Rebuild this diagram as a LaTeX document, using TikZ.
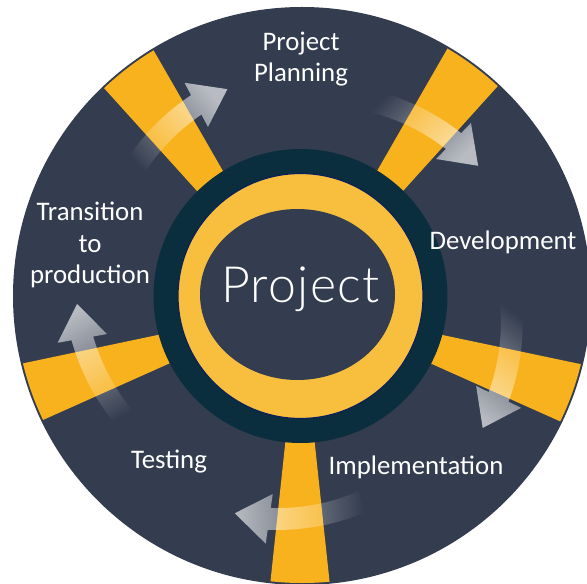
\documentclass[tikz,border=0pt]{standalone}
\usepackage{fontspec}
\setmainfont{Carlito}
\newfontfamily\lightfont{Lato Light}[LetterSpace=2.6]
\usetikzlibrary{fadings}

\definecolor{slate}{HTML}{343D4F}
\definecolor{ringdark}{HTML}{0A2E3D}
\definecolor{baryellow}{HTML}{F8B21E}
\definecolor{ringyellow}{HTML}{F8BF3F}
\definecolor{ringedge}{HTML}{0B1F5C}

% curved cycle arrows: clear at the tail, bright at the head
\tikzfading[name=arrowfade, left color=transparent!100, right color=transparent!35]

\begin{document}
\begin{tikzpicture}[x=1bp, y=1bp,
  phase/.style={text=white, font=\fontsize{26.8bp}{31.5bp}\selectfont, align=center, inner sep=0pt},
  corelabel/.style={text=white, font=\lightfont\fontsize{50bp}{60bp}\selectfont, inner sep=0pt},
  spoke/.style={fill=baryellow},
  cyclearrow/.style={fill=white, path fading=arrowfade}]
\useasboundingbox (-300,-284) rectangle (287,300);

% outer disk
\fill[slate] (2,4) circle[radius=289];

% five yellow spokes
\begin{scope}
  \clip (2,4) circle[radius=287];
  \foreach \t in {126,54,-18,-90,198}{
    \pgfmathsetmacro\sa{\t-6.1}
    \pgfmathsetmacro\sb{\t+6.1}
    \fill[spoke] (0,-5) -- ++(\sa:320) arc[start angle=\sa, end angle=\sb, radius=320] -- cycle;
  }
\end{scope}

% clockwise arrows crossing each spoke
\foreach \t in {126,54,-18,-90,198}{
  \pgfmathsetmacro\ts{\t+17}
  \pgfmathsetmacro\te{\t-8}
  \pgfmathsetmacro\tt{\t-17}
  \pgfmathsetmacro\fa{\t-88}
  \fill[cyclearrow, fading angle=\fa]
    plot[domain=\ts:\te, samples=26] (\x:{222+(\ts-\x)*0.4})
    -- (\te:246) -- (\tt:223) -- (\te:196)
    -- plot[domain=\te:\ts, samples=26] (\x:{200+(\ts-\x)*0.4})
    -- cycle;
}

% hub rings
\fill[ringdark] (0.5,4) circle[radius=147];
\filldraw[fill=ringyellow, draw=ringedge, line width=1.2bp] (0.5,4) circle[radius=122.5];
\fill[slate] (-2.5,5.5) ellipse[x radius=97.5, y radius=85.5];

% labels
\node[corelabel, anchor=base] (core) at (0.5,-3) {Project};
\node[phase] (plan) at (1,241) {Project\\Planning};
\node[phase] (dev) at (203,58) {Development};
\node[phase] (impl) at (116,-167) {Implementation};
\node[phase] (test) at (-131,-162) {Testing};
\node[phase] (trans) at (-210,55) {Transition\\to\\production};
\end{tikzpicture}
\end{document}
